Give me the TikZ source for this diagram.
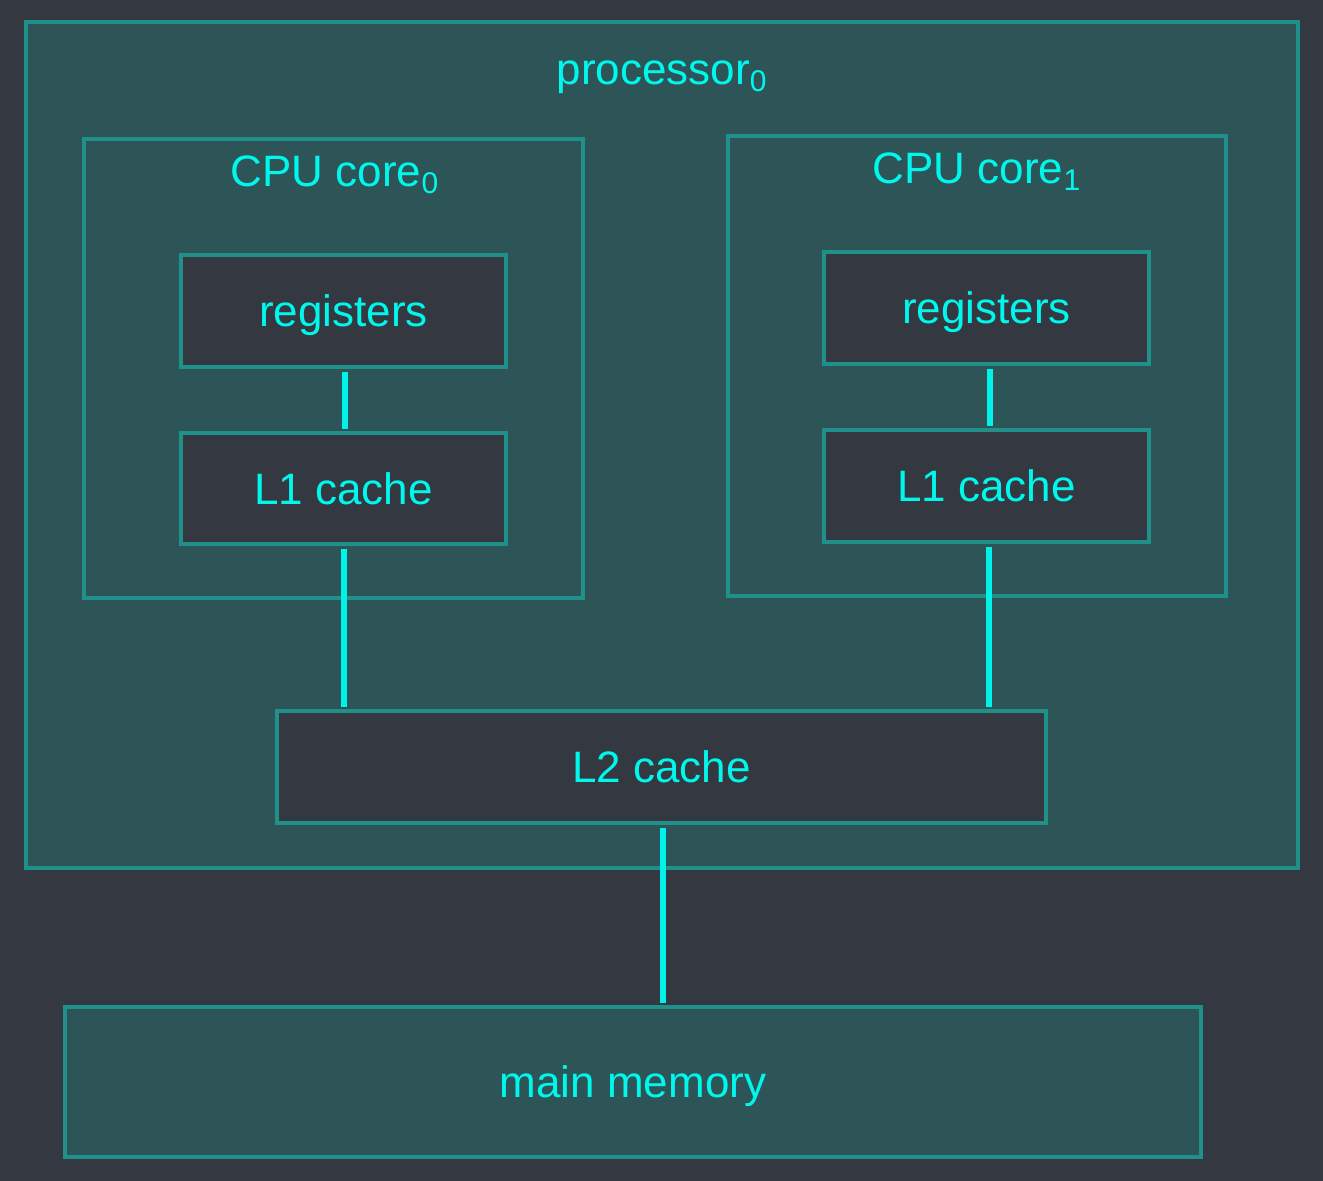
\documentclass[tikz,border=0pt]{standalone}
\usepackage{fontspec}
\setmainfont{Liberation Sans}
\definecolor{bgc}{HTML}{343941}
\definecolor{fillc}{HTML}{2D5558}
\definecolor{borderc}{HTML}{20908B}
\definecolor{textc}{HTML}{00F7EC}
\definecolor{linec}{HTML}{00F3EA}
\newcommand{\sbs}[1]{\raisebox{-7pt}{\fontsize{30}{30}\selectfont #1}}
\tikzset{
  box/.style={draw=borderc, line width=4.5pt, inner sep=0pt, rectangle},
  outerbox/.style={box, fill=fillc},
  innerbox/.style={box, fill=bgc, text=textc, font=\fontsize{44}{44}\selectfont, text height=31.5pt, text depth=0pt},
  title/.style={anchor=base, text=textc, font=\fontsize{44}{44}\selectfont, inner sep=0pt},
  link/.style={draw=linec, line width=6pt, shorten <=2.25pt, shorten >=2.25pt}
}
\begin{document}
\begin{tikzpicture}[x=1pt,y=-1pt]
\fill[bgc] (0,0) rectangle (1323,1181);
\useasboundingbox (0,0) rectangle (1323,1181);
\node[outerbox, minimum width=1272pt, minimum height=846pt] (proc) at (662,445) {};
\node[title] (proclabel) at (661.5,84) {processor\sbs{0}};
\node[outerbox, minimum width=499pt, minimum height=459pt] (core0) at (333.5,368.5) {};
\node[title] (core0label) at (334.5,186) {CPU core\sbs{0}};
\node[outerbox, minimum width=498pt, minimum height=460pt] (core1) at (977,366) {};
\node[title] (core1label) at (976.5,183) {CPU core\sbs{1}};
\node[outerbox, minimum width=1136pt, minimum height=150pt, text=textc, font=\fontsize{44}{44}\selectfont, text height=31.5pt, text depth=0pt] (mem) at (633,1082) {main memory};
\node[innerbox, minimum width=325pt, minimum height=112pt] (reg0) at (343.5,311) {registers};
\node[innerbox, minimum width=325pt, minimum height=111pt] (l10) at (343.5,488.5) {L1 cache};
\node[innerbox, minimum width=325pt, minimum height=112pt] (reg1) at (986.5,308) {registers};
\node[innerbox, minimum width=325pt, minimum height=112pt] (l11) at (986.5,486) {L1 cache};
\node[innerbox, minimum width=769pt, minimum height=112pt] (l2) at (661.5,767) {L2 cache};
\draw[link] ([xshift=1.5pt]reg0.south) -- ([xshift=1.5pt]l10.north);
\draw[link] ([xshift=3.5pt]reg1.south) -- ([xshift=3.5pt]l11.north);
\draw[link] ([xshift=0.5pt]l10.south) -- ([xshift=0.5pt]l10.south |- l2.north);
\draw[link] ([xshift=2.5pt]l11.south) -- ([xshift=2.5pt]l11.south |- l2.north);
\draw[link] ([xshift=1.5pt]l2.south) -- ([xshift=1.5pt]l2.south |- mem.north);
\end{tikzpicture}
\end{document}
